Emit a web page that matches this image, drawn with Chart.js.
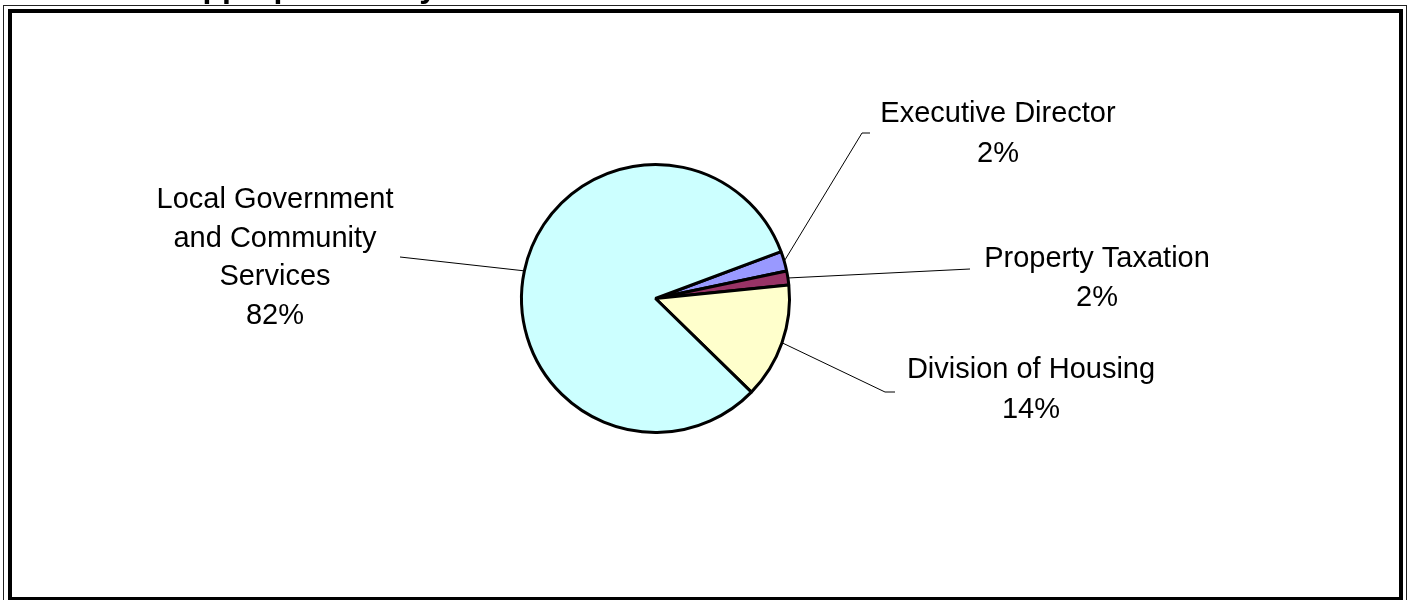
<!DOCTYPE html>
<html>
<head>
<meta charset="utf-8">
<script src="https://cdn.jsdelivr.net/npm/chart.js@4.4.1/dist/chart.umd.min.js"></script>
<style>
  html, body { margin: 0; padding: 0; background: #fff; width: 1410px; height: 600px; overflow: hidden; }
  #frameOuter { position: absolute; left: 3px; top: 5px; width: 1404px; height: 640px; border: 1px solid #222; box-sizing: border-box; }
  #frameInner { position: absolute; left: 8px; top: 9px; width: 1395px; height: 592px; border: 4px solid #000; box-sizing: border-box; }
  #chart { position: absolute; left: 0; top: 0; }
</style>
</head>
<body>
<div id="frameOuter"></div>
<div id="frameInner"></div>
<canvas id="chart" width="1410" height="600"></canvas>
<script>
// ---- data ----
const categories = ['Executive Director', 'Property Taxation', 'Division of Housing', 'Local Government and Community Services'];
const shares = [2.4, 1.7, 13.9, 82.0];
const labelLines = [
  ['Executive Director'],
  ['Property Taxation'],
  ['Division of Housing'],
  ['Local Government', 'and Community', 'Services']
];
const sliceColors = ['#9999FF', '#993366', '#FFFFCC', '#CCFFFF'];
const chartTitle = 'Appropriation by Division';

const labelPlugin = {
  id: 'sliceLabels',
  afterDatasetsDraw(chart, args, opts) {
    const ctx = chart.ctx;
    const meta = chart.getDatasetMeta(0);
    const data = chart.data.datasets[0].data;
    const total = data.reduce((a, b) => a + b, 0);
    ctx.save();
    meta.data.forEach((arc, i) => {
      const p = arc.getProps(['x', 'y', 'startAngle', 'endAngle', 'outerRadius'], true);
      const mid = (p.startAngle + p.endAngle) / 2;
      const sx = p.x + Math.cos(mid) * p.outerRadius;
      const sy = p.y + Math.sin(mid) * p.outerRadius;
      const L = opts.layout[i];
      ctx.beginPath();
      ctx.moveTo(sx, sy);
      L.leader.forEach(pt => ctx.lineTo(pt[0], pt[1]));
      ctx.strokeStyle = '#000';
      ctx.lineWidth = 1;
      ctx.stroke();
      const lines = [...labelLines[i], Math.round(data[i] / total * 100) + '%'];
      ctx.font = '29px "Liberation Sans", Arial, sans-serif';
      ctx.fillStyle = '#000';
      ctx.textAlign = 'center';
      ctx.textBaseline = 'alphabetic';
      lines.forEach((t, k) => ctx.fillText(t, L.cx, L.baseline + k * L.step));
    });
    ctx.font = 'bold 32px "Liberation Sans", Arial, sans-serif';
    ctx.textAlign = 'left';
    ctx.textBaseline = 'alphabetic';
    ctx.fillStyle = '#000';
    ctx.fillText(opts.title, 179.4, -3);
    ctx.restore();
  }
};

new Chart(document.getElementById('chart'), {
  type: 'pie',
  data: {
    labels: categories,
    datasets: [{
      data: shares,
      backgroundColor: sliceColors,
      borderColor: '#000',
      borderWidth: 3,
      hoverOffset: 0
    }]
  },
  options: {
    responsive: false,
    animation: false,
    devicePixelRatio: 1,
    rotation: 69.5,
    layout: { padding: { left: 520, right: 619, top: 163, bottom: 166 } },
    events: [],
    plugins: {
      legend: { display: false },
      tooltip: { enabled: false },
      title: { display: false },
      sliceLabels: {
        title: chartTitle,
        layout: [
          { cx: 998, baseline: 122, step: 40, leader: [[862, 133], [870, 133]] },
          { cx: 1097, baseline: 267, step: 38.5, leader: [[970, 269]] },
          { cx: 1031, baseline: 378, step: 40, leader: [[885, 392], [895, 392]] },
          { cx: 275, baseline: 208, step: 38.7, leader: [[400, 257]] }
        ]
      }
    }
  },
  plugins: [labelPlugin]
});
</script>
</body>
</html>
